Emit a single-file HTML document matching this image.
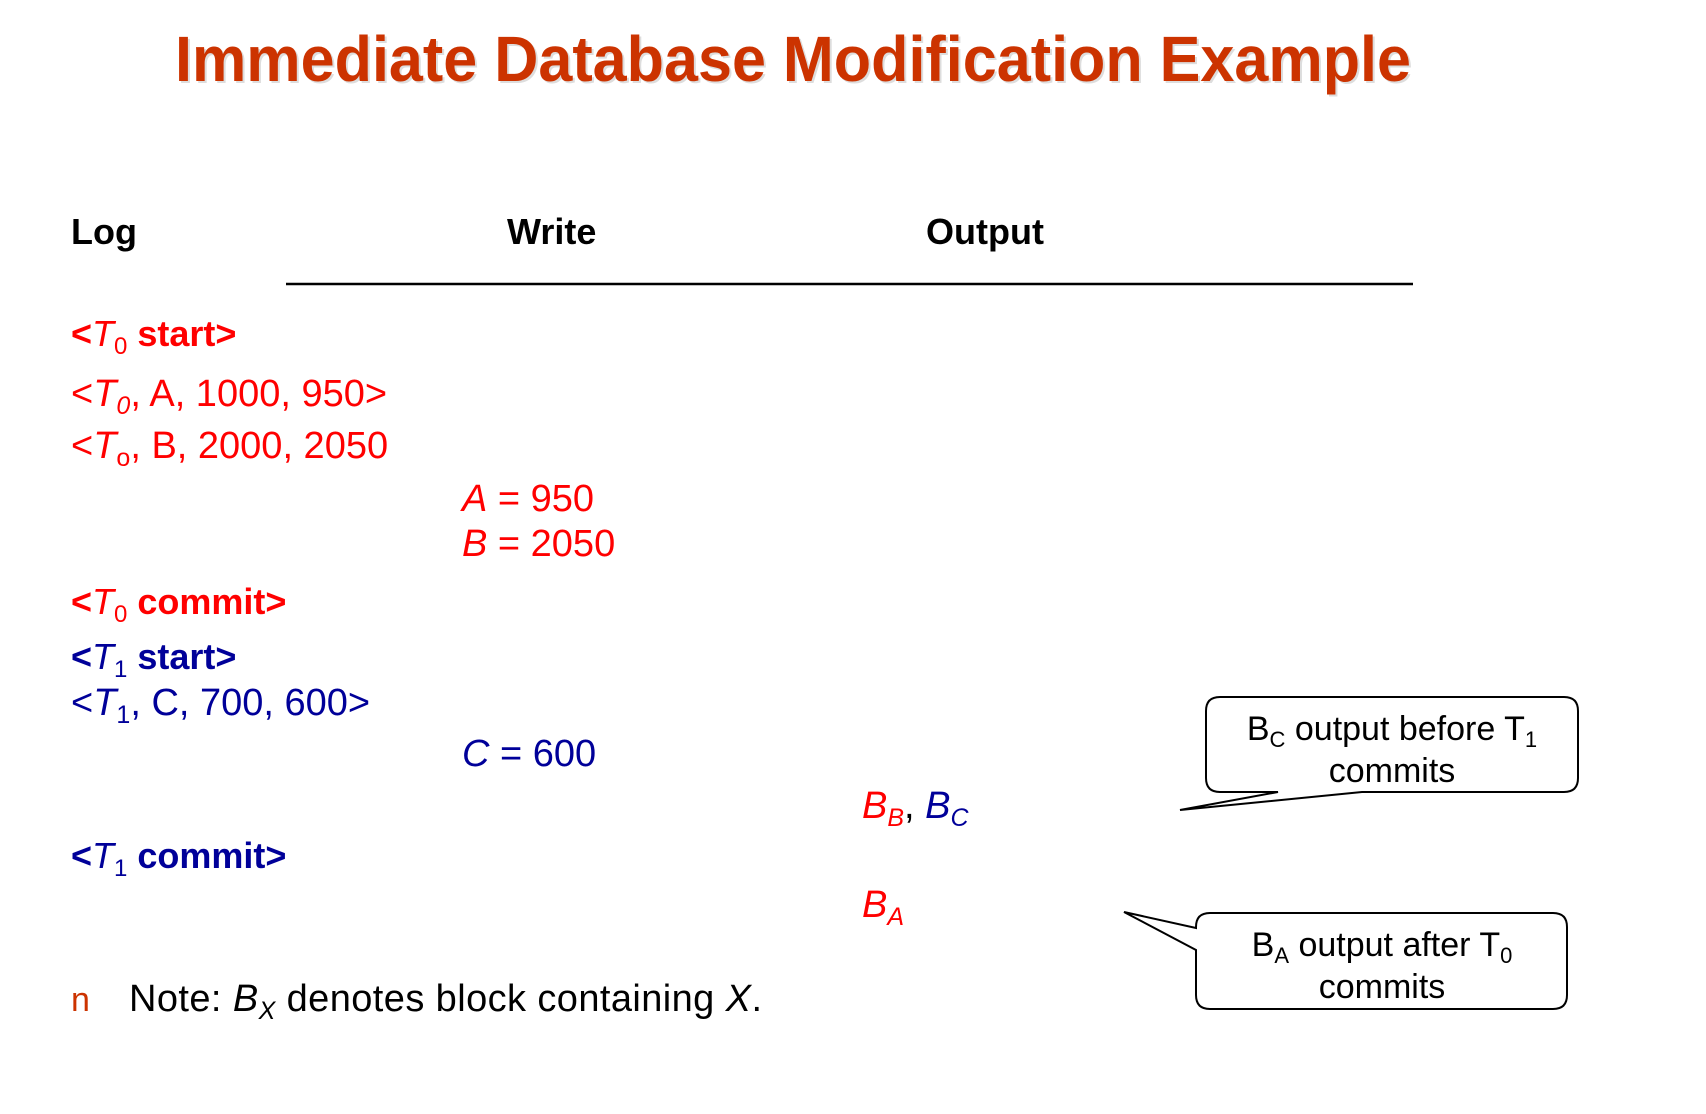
<!DOCTYPE html>
<html><head><meta charset="utf-8"><style>
html,body{margin:0;padding:0;background:#fff;width:1706px;height:1114px;overflow:hidden}
svg{display:block;font-family:"Liberation Sans",Arial,sans-serif}
.r{fill:#ff0000}.b{fill:#000099}.k{fill:#000}
</style></head><body>
<svg width="1706" height="1114" viewBox="0 0 1706 1114">
<text x="177" y="83" font-size="64" font-weight="bold" fill="#ddd" textLength="1236" lengthAdjust="spacingAndGlyphs">Immediate Database Modification Example</text>
<text x="175" y="81" font-size="64" font-weight="bold" fill="#cc3300" textLength="1236" lengthAdjust="spacingAndGlyphs">Immediate Database Modification Example</text>

<text x="71" y="244" font-size="36" font-weight="bold" class="k">Log</text>
<text x="507" y="244" font-size="36" font-weight="bold" class="k">Write</text>
<text x="926" y="244" font-size="36" font-weight="bold" class="k">Output</text>
<line x1="286" y1="284" x2="1413" y2="284" stroke="#000" stroke-width="2.5"/>

<text x="71" y="346" font-size="36" class="r" font-weight="bold">&lt;<tspan font-style="italic" font-weight="normal">T</tspan><tspan font-size="24" dy="8" font-weight="normal">0</tspan><tspan dy="-8"> start&gt;</tspan></text>
<text x="71" y="406" font-size="38" class="r">&lt;<tspan font-style="italic">T</tspan><tspan font-size="25" dy="8" font-style="italic">0</tspan><tspan dy="-8">, A, 1000, 950&gt;</tspan></text>
<text x="71" y="458" font-size="38" class="r">&lt;<tspan font-style="italic">T</tspan><tspan font-size="25" dy="8">o</tspan><tspan dy="-8">, B, 2000, 2050</tspan></text>
<text x="462" y="511" font-size="38" class="r"><tspan font-style="italic">A</tspan> = 950</text>
<text x="462" y="556" font-size="38" class="r"><tspan font-style="italic">B</tspan> = 2050</text>
<text x="71" y="614" font-size="36" class="r" font-weight="bold">&lt;<tspan font-style="italic" font-weight="normal">T</tspan><tspan font-size="24" dy="8" font-weight="normal">0</tspan><tspan dy="-8"> commit&gt;</tspan></text>

<text x="71" y="669" font-size="36" class="b" font-weight="bold">&lt;<tspan font-style="italic" font-weight="normal">T</tspan><tspan font-size="24" dy="8" font-weight="normal">1</tspan><tspan dy="-8"> start&gt;</tspan></text>
<text x="71" y="715" font-size="38" class="b">&lt;<tspan font-style="italic">T</tspan><tspan font-size="25" dy="8">1</tspan><tspan dy="-8">, C, 700, 600&gt;</tspan></text>
<text x="462" y="766" font-size="38" class="b"><tspan font-style="italic">C</tspan> = 600</text>
<text x="862" y="818" font-size="38" font-style="italic"><tspan class="r">B</tspan><tspan class="r" font-size="25" dy="8">B</tspan><tspan class="k" font-style="normal" dy="-8">, </tspan><tspan class="b">B</tspan><tspan class="b" font-size="25" dy="8">C</tspan></text>
<text x="71" y="868" font-size="36" class="b" font-weight="bold">&lt;<tspan font-style="italic" font-weight="normal">T</tspan><tspan font-size="24" dy="8" font-weight="normal">1</tspan><tspan dy="-8"> commit&gt;</tspan></text>
<text x="862" y="917" font-size="38" font-style="italic" class="r">B<tspan font-size="25" dy="8">A</tspan></text>

<text x="71" y="1011" font-size="34" fill="#cc3300">n</text>
<text x="129" y="1011" font-size="38" class="k" textLength="633">Note: <tspan font-style="italic">B</tspan><tspan font-style="italic" font-size="25" dy="8">X</tspan><tspan dy="-8"> denotes block containing </tspan><tspan font-style="italic">X</tspan>.</text>

<g>
<path d="M1220,697 H1564 Q1578,697 1578,711 V778 Q1578,792 1564,792 H1362 L1180,810 L1278,792 H1220 Q1206,792 1206,778 V711 Q1206,697 1220,697 Z" fill="#fff" stroke="#000" stroke-width="2"/>
<text x="1392" y="740" font-size="34" text-anchor="middle" class="k">B<tspan font-size="22" dy="7">C</tspan><tspan dy="-7"> output before T</tspan><tspan font-size="22" dy="7">1</tspan></text>
<text x="1392" y="782" font-size="34" text-anchor="middle" class="k">commits</text>
</g>
<g>
<path d="M1210,913 H1553 Q1567,913 1567,927 V995 Q1567,1009 1553,1009 H1210 Q1196,1009 1196,995 V950 L1124,912 L1196,928 V927 Q1196,913 1210,913 Z" fill="#fff" stroke="#000" stroke-width="2"/>
<text x="1382" y="956" font-size="34" text-anchor="middle" class="k">B<tspan font-size="22" dy="7">A</tspan><tspan dy="-7"> output after T</tspan><tspan font-size="22" dy="7">0</tspan></text>
<text x="1382" y="998" font-size="34" text-anchor="middle" class="k">commits</text>
</g>
</svg>
</body></html>
